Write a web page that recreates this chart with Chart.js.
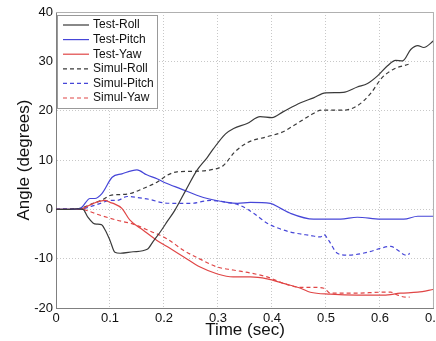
<!DOCTYPE html>
<html>
<head>
<meta charset="utf-8">
<script src="https://cdn.jsdelivr.net/npm/chart.js@4.4.0/dist/chart.umd.min.js"></script>
<style>
  html, body { margin: 0; padding: 0; background: #fff; overflow: hidden; }
  #wrap { position: absolute; left: 0; top: 0; width: 446px; height: 341px; }
</style>
</head>
<body>
<div id="wrap"><canvas id="angleChart"></canvas></div>
<script>
// values (time in sec, angle in degrees)
const testRollT = [0, 0.02, 0.04, 0.05, 0.059, 0.069, 0.075, 0.084, 0.091, 0.1, 0.109, 0.119, 0.143, 0.169, 0.18, 0.193, 0.207, 0.22, 0.24, 0.261, 0.28, 0.291, 0.314, 0.329, 0.354, 0.378, 0.4, 0.421, 0.453, 0.477, 0.499, 0.532, 0.558, 0.577, 0.596, 0.614, 0.629, 0.642, 0.657, 0.67, 0.681, 0.7];
const testRollV = [0, 0, 0.1, 0, -1.6, -2.8, -3.0, -3.1, -4.2, -6.3, -8.7, -8.9, -8.6, -8.1, -6.5, -4.6, -2.3, -0.2, 3.8, 7.9, 10.5, 12.2, 15.3, 16.4, 17.4, 18.8, 18.6, 19.8, 21.6, 22.6, 23.6, 23.7, 24.8, 25.5, 27.1, 29.1, 30.2, 30.1, 32.4, 33.2, 32.8, 34.2];

const testPitchT = [0, 0.02, 0.045, 0.063, 0.072, 0.085, 0.104, 0.122, 0.15, 0.168, 0.187, 0.202, 0.23, 0.273, 0.317, 0.336, 0.36, 0.397, 0.416, 0.434, 0.477, 0.527, 0.558, 0.601, 0.644, 0.67, 0.7];
const testPitchV = [0, 0, 0.2, 2.2, 2.2, 3.2, 6.5, 7.2, 8.0, 7.0, 6.2, 5.4, 4.2, 2.4, 1.4, 1.2, 1.4, 1.2, 0.2, -0.8, -2.0, -2.0, -1.6, -2.0, -2.0, -1.4, -1.4];

const testYawT = [0, 0.02, 0.045, 0.05, 0.069, 0.091, 0.1, 0.106, 0.122, 0.137, 0.161, 0.187, 0.211, 0.236, 0.267, 0.299, 0.328, 0.36, 0.391, 0.421, 0.453, 0.471, 0.508, 0.558, 0.607, 0.638, 0.67, 0.7];
const testYawV = [0, 0, 0.1, 0.2, 1.2, 1.8, 1.4, 1.2, 0.2, -2.2, -4.2, -6.3, -7.9, -9.6, -11.7, -13.1, -13.7, -13.7, -14.1, -15.0, -16.0, -16.8, -17.2, -17.4, -17.4, -17.0, -16.8, -16.2];

const simRollT = [0, 0.02, 0.045, 0.069, 0.087, 0.1, 0.119, 0.137, 0.161, 0.187, 0.206, 0.224, 0.254, 0.286, 0.31, 0.33, 0.354, 0.39, 0.418, 0.445, 0.47, 0.492, 0.532, 0.558, 0.582, 0.604, 0.625, 0.653];
const simRollV = [0, 0, 0.2, 1.2, 2.0, 2.8, 3.0, 3.2, 4.2, 5.5, 6.9, 7.6, 7.7, 8.0, 8.9, 11.5, 13.5, 14.7, 15.6, 17.3, 19.0, 20.1, 20.1, 21.0, 23.4, 26.7, 28.4, 29.4];

const simPitchT = [0, 0.02, 0.045, 0.065, 0.082, 0.1, 0.113, 0.132, 0.15, 0.174, 0.2, 0.23, 0.249, 0.286, 0.317, 0.341, 0.366, 0.391, 0.416, 0.434, 0.471, 0.49, 0.496, 0.505, 0.521, 0.54, 0.577, 0.601, 0.62, 0.633, 0.645, 0.651, 0.655];
const simPitchV = [0, 0.1, 0.1, 0.6, 1.2, 1.8, 1.8, 2.6, 2.4, 2.0, 1.3, 1.2, 1.2, 1.8, 1.4, 0.8, -0.8, -2.8, -4.0, -4.6, -5.3, -5.6, -5.1, -6.3, -8.9, -9.3, -8.7, -7.9, -7.5, -8.3, -9.2, -9.3, -8.9];

const simYawT = [0, 0.02, 0.045, 0.05, 0.082, 0.113, 0.143, 0.174, 0.206, 0.236, 0.267, 0.299, 0.328, 0.36, 0.391, 0.421, 0.453, 0.471, 0.496, 0.508, 0.558, 0.601, 0.62, 0.633, 0.648, 0.655];
const simYawV = [0, 0, 0.1, 0, -1.2, -2.2, -3.0, -4.4, -6.0, -8.3, -10.1, -11.7, -12.3, -12.9, -13.7, -15.0, -15.8, -15.8, -16.0, -17.0, -17.0, -16.8, -16.8, -17.4, -17.8, -17.8];

const xTicks = [0, 0.1, 0.2, 0.3, 0.4, 0.5, 0.6, 0.7];
const yTicks = [-20, -10, 0, 10, 20, 30, 40];

const FONT = '"Liberation Sans", Arial, sans-serif';

function pts(t, v) {
    return t.map((x, i) => ({ x: x, y: v[i] }));
}

function line(label, t, v, color, dashed) {
    return {
        label: label,
        data: pts(t, v),
        borderColor: color,
        borderWidth: 1.2,
        borderDash: dashed ? [4, 3] : [],
        pointRadius: 0,
        cubicInterpolationMode: "monotone",
        fill: false
    };
}

// legend box inside the plot + the grey frame round the axes
const boxLegend = {
    id: "boxLegend",
    afterDatasetsDraw(chart) {
        const { ctx, chartArea } = chart;
        ctx.save();
        ctx.strokeStyle = "#b0b0b0";
        ctx.lineWidth = 1;
        ctx.beginPath();
        ctx.moveTo(chartArea.left, chartArea.top + 0.5);
        ctx.lineTo(chartArea.right - 0.5, chartArea.top + 0.5);
        ctx.lineTo(chartArea.right - 0.5, chartArea.bottom);
        ctx.stroke();

        const x0 = chartArea.left + 1, y0 = chartArea.top + 3;
        ctx.fillStyle = "#fff";
        ctx.fillRect(x0, y0, 100, 93);
        ctx.strokeStyle = "#999";
        ctx.strokeRect(x0 + 0.5, y0 + 0.5, 100, 93);
        ctx.font = "12px " + FONT;
        ctx.textBaseline = "middle";
        chart.data.datasets.forEach((ds, i) => {
            const y = y0 + 10 + i * 14.6;
            ctx.strokeStyle = ds.borderColor;
            ctx.lineWidth = 1.2;
            ctx.setLineDash(ds.borderDash);
            ctx.beginPath();
            ctx.moveTo(x0 + 6, y);
            ctx.lineTo(x0 + 32, y);
            ctx.stroke();
            ctx.setLineDash([]);
            ctx.fillStyle = "#111";
            ctx.fillText(ds.label, x0 + 36, y);
        });
        ctx.restore();
    }
};

const ctx = document.getElementById("angleChart").getContext("2d");

new Chart(ctx, {
    type: "line",
    data: {
        datasets: [
            line("Test-Roll", testRollT, testRollV, "#3a3a3a", false),
            line("Test-Pitch", testPitchT, testPitchV, "#4646d8", false),
            line("Test-Yaw", testYawT, testYawV, "#e04646", false),
            line("Simul-Roll", simRollT, simRollV, "#3a3a3a", true),
            line("Simul-Pitch", simPitchT, simPitchV, "#4646d8", true),
            line("Simul-Yaw", simYawT, simYawV, "#e04646", true)
        ]
    },
    options: {
        responsive: true,
        maintainAspectRatio: false,
        animation: false,
        layout: { padding: { top: 12, left: 0, right: 0, bottom: 0 } },
        plugins: {
            legend: { display: false },
            tooltip: { enabled: false }
        },
        scales: {
            x: {
                type: "linear",
                min: 0,
                max: 0.7,
                afterBuildTicks: s => { s.ticks = xTicks.map(v => ({ value: v })); },
                afterFit: s => { s.height = 33; },
                grid: { color: "#c8c8c8", lineWidth: 1, drawTicks: false },
                border: { color: "#808080", width: 1, dash: [1, 2] },
                ticks: {
                    color: "#111",
                    padding: 3,
                    maxRotation: 0,
                    font: { family: FONT, size: 13 },
                    callback: v => String(Math.round(v * 10) / 10)
                },
                title: {
                    display: true,
                    text: "Time (sec)",
                    color: "#111",
                    font: { family: FONT, size: 17 },
                    padding: { top: 0, bottom: 0 }
                }
            },
            y: {
                min: -20,
                max: 40,
                afterBuildTicks: s => { s.ticks = yTicks.map(v => ({ value: v })); },
                afterFit: s => { s.width = 56; },
                grid: { color: "#c8c8c8", lineWidth: 1, drawTicks: false },
                border: { color: "#808080", width: 1, dash: [1, 2] },
                ticks: {
                    color: "#111",
                    padding: 3,
                    font: { family: FONT, size: 13 }
                },
                title: {
                    display: true,
                    text: "Angle (degrees)",
                    color: "#111",
                    font: { family: FONT, size: 17 },
                    padding: { top: 14, bottom: 0 }
                }
            }
        }
    },
    plugins: [boxLegend]
});
</script>
</body>
</html>
